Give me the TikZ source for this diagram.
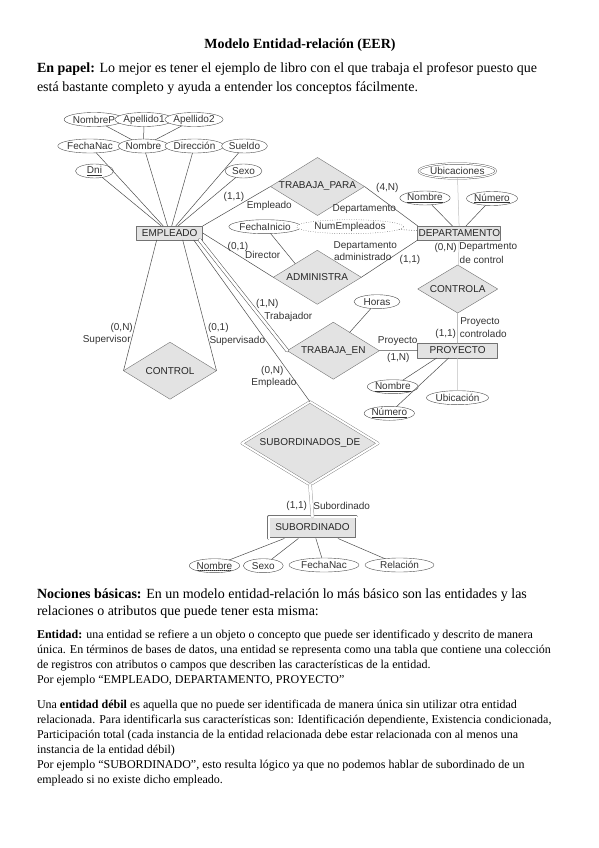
\documentclass[tikz,border=0pt]{standalone}
\usepackage{fontspec}
\setmainfont{Liberation Serif}
\setsansfont{Liberation Sans}
\usetikzlibrary{shapes.geometric}

\begin{document}
\begin{tikzpicture}
% Page traced in pixel units of the scanned sheet
\def\pxsz{1pt}
\providecommand{\erLineColor}{black!70}
\providecommand{\erFaintColor}{black!25}
\providecommand{\erFillColor}{black!11}
\providecommand{\erBorderColor}{black!55}
\providecommand{\erFont}{\sffamily\fontsize{10}{12}\selectfont}
\providecommand{\bigTxt}{\fontsize{14}{16}\selectfont}
\providecommand{\smallTxt}{\fontsize{12}{14}\selectfont}
\begin{scope}[x=\pxsz, y=-\pxsz, line cap=round, line join=round,
  every node/.style={inner sep=0pt, outer sep=0pt},
  attr/.style={ellipse, draw=\erLineColor, fill=white, minimum height=14pt, font=\erFont, text=black!80},
  entity/.style={rectangle, draw=\erBorderColor, fill=\erFillColor, line width=0.8pt, font=\erFont, text=black!85},
  rel/.style={diamond, aspect=1.6, draw=\erBorderColor, fill=\erFillColor, font=\erFont, text=black!85},
  role/.style={font=\erFont, text=black!80},
  link/.style={draw=\erLineColor, line width=0.5pt},
  faint/.style={draw=\erFaintColor, line width=0.5pt},
  total/.style={draw=\erLineColor, line width=0.5pt, double, double distance=2.6pt},
  txt/.style={anchor=mid west}]
  \useasboundingbox (0,0) rectangle (599,848);
  % Heading and first paragraph
  \node[font=\bigTxt\bfseries] (title) at (300,45) {Modelo Entidad-relación (EER)};
  \node[txt, font=\bigTxt] (p1) at (37,70) {\textbf{En papel:} Lo mejor es tener el ejemplo de libro con el que trabaja el profesor puesto que};
  \node[txt, font=\bigTxt] (p2) at (37,89) {está bastante completo y ayuda a entender los conceptos fácilmente.};
  % EMPLEADO and its attributes
  \node[entity, minimum width=66pt, minimum height=14pt] (empleado) at (169.7,233) {EMPLEADO};
  \node[attr, minimum width=47pt] (nombreP) at (94,119.5) {NombreP};
  \node[attr, minimum width=47pt] (apellido1) at (144,119.5) {Apellido1};
  \node[attr, minimum width=46pt] (apellido2) at (194,119.5) {Apellido2};
  \node[attr, minimum width=54pt] (fechaNac) at (90,146) {FechaNac};
  \node[attr, minimum width=47pt] (nombre) at (143.5,146) {Nombre};
  \node[attr, minimum width=46pt] (direccion) at (194.5,146) {Dirección};
  \node[attr, minimum width=46pt] (sueldo) at (244.5,146) {Sueldo};
  \node[attr, minimum width=38pt] (dni) at (94.5,171) {\underline{Dni}};
  \node[attr, minimum width=37pt] (sexo) at (243.5,171) {Sexo};
  \draw[link] (nombreP) -- (nombre);
  \draw[link] (apellido1) -- (nombre);
  \draw[link] (apellido2) -- (nombre);
  \draw[link] (dni) -- (empleado);
  \draw[link] (fechaNac) -- (empleado);
  \draw[link] (nombre) -- (empleado);
  \draw[link] (direccion) -- (empleado);
  \draw[link] (sueldo) -- (empleado);
  \draw[link] (sexo) -- (empleado);
  % DEPARTAMENTO and its attributes
  \node[entity, minimum width=83pt, minimum height=14pt] (departamento) at (459.3,233) {DEPARTAMENTO};
  \node[attr, minimum width=72pt, minimum height=15pt, double, double distance=1.2pt] (ubicaciones) at (457.3,171) {Ubicaciones};
  \node[attr, minimum width=49pt] (dNombre) at (425,198) {\underline{Nombre}};
  \node[attr, minimum width=51pt] (dNumero) at (492,198.5) {\underline{Número}};
  \draw[faint] (ubicaciones) -- (departamento);
  \draw[link] (dNombre) -- (departamento);
  \draw[link] (dNumero) -- (departamento);
  % TRABAJA_PARA
  \node[rel, minimum width=94pt, minimum height=58pt] (trabajaPara) at (317.5,186.5) {TRABAJA\_PARA};
  \draw[link] (empleado.north east) -- (trabajaPara.west);
  \draw[link] (trabajaPara.east) -- (departamento.north west);
  \node[role] (lTpE1) at (234,197.3) {(1,1)};
  \node[role] (lTpE2) at (269.3,206) {Empleado};
  \node[role] (lTpD1) at (387.3,188) {(4,N)};
  \node[role] (lTpD2) at (364.3,209) {Departamento};
  % ADMINISTRA
  \node[rel, minimum width=88pt, minimum height=54pt] (administra) at (317.3,277.3) {ADMINISTRA};
  \node[attr, minimum width=55pt] (fechaInicio) at (265,226.7) {FechaInicio};
  \node[attr, minimum width=107pt, dotted] (numEmpleados) at (350,226.7) {NumEmpleados};
  \draw[link] (empleado.east) -- (administra.west);
  \draw[link] (administra.east) -- (departamento.south west);
  \draw[link] (fechaInicio) -- (administra.north west);
  \draw[link, dotted] (numEmpleados) -- (departamento);
  \node[role] (lAdE1) at (238,246.7) {(0,1)};
  \node[role] (lAdE2) at (262.7,255) {Director};
  \node[role] (lAdD1) at (365.3,245.7) {Departamento};
  \node[role] (lAdD2) at (362.7,257.3) {administrado};
  \node[role] (lAdD3) at (410,260) {(1,1)};
  % CONTROLA and PROYECTO
  \node[rel, minimum width=80pt, minimum height=48pt] (controla) at (457.7,289) {CONTROLA};
  \node[entity, minimum width=80pt, minimum height=15pt] (proyecto) at (457.7,350.5) {PROYECTO};
  \node[attr, minimum width=51pt] (pNombre) at (392.8,386.7) {\underline{Nombre}};
  \node[attr, minimum width=50pt] (pNumero) at (389.3,413.3) {\underline{Número}};
  \node[attr, minimum width=62pt] (ubicacion) at (457.5,397.7) {Ubicación};
  \draw[faint] (departamento) -- (controla);
  \draw[faint] (controla) -- (proyecto);
  \draw[faint] (proyecto) -- (ubicacion);
  \draw[link] (pNombre) -- ([xshift=-21pt]proyecto.south);
  \draw[link] (pNumero) -- ([xshift=-9pt]proyecto.south);
  \node[role] (lCoD1) at (445.7,248) {(0,N)};
  \node[role] (lCoD2) at (488.3,247.3) {Departmento};
  \node[role] (lCoD3) at (481.7,260) {de control};
  \node[role] (lCoP1) at (480,321.7) {Proyecto};
  \node[role] (lCoP2) at (483.3,334) {controlado};
  \node[role] (lCoP3) at (445.7,334) {(1,1)};
  % TRABAJA_EN
  \node[rel, minimum width=92pt, minimum height=57pt] (trabajaEn) at (333.3,350.7) {TRABAJA\_EN};
  \node[attr, minimum width=46pt] (horas) at (377,301.7) {Horas};
  \draw[link] (horas) -- (trabajaEn);
  \draw[link] (trabajaEn.east) -- (proyecto.west);
  \draw[total] ([xshift=-3pt]empleado.south east) -- (trabajaEn.west);
  \node[role] (lTeE1) at (267.3,304) {(1,N)};
  \node[role] (lTeE2) at (288.3,317.3) {Trabajador};
  \node[role] (lTeP1) at (397.7,340.7) {Proyecto};
  \node[role] (lTeP2) at (398.3,358.3) {(1,N)};
  % CONTROL (recursive)
  \node[rel, minimum width=93pt, minimum height=57pt] (control) at (170,370.7) {CONTROL};
  \draw[link] ([xshift=-13pt]empleado.south) -- (control.west);
  \draw[link] ([xshift=13pt]empleado.south) -- (control.east);
  \node[role] (lCtS1) at (121.7,328.3) {(0,N)};
  \node[role] (lCtS2) at (106.7,340) {Supervisor};
  \node[role] (lCtV1) at (218.3,328.3) {(0,1)};
  \node[role] (lCtV2) at (237.3,340.7) {Supervisado};
  % SUBORDINADOS_DE and the weak entity
  \node[rel, minimum width=136pt, minimum height=83pt, double, double distance=2pt] (subordinadosDe) at (310,443.3) {SUBORDINADOS\_DE};
  \node[entity, minimum width=88pt, minimum height=22pt, double, double distance=2pt, line width=0.6pt] (subordinado) at (312.5,527.5) {SUBORDINADO};
  \draw[link] ([xshift=-9pt]empleado.south east) -- (subordinadosDe.north);
  \draw[total, draw=black!35] (subordinadosDe.south) -- (subordinado.north);
  \node[role] (lSdE1) at (272.3,370.7) {(0,N)};
  \node[role] (lSdE2) at (274,383.3) {Empleado};
  \node[role] (lSdS1) at (296.7,505.7) {(1,1)};
  \node[role] (lSdS2) at (341.7,505.7) {Subordinado};
  \node[attr, minimum width=46pt] (sNombre) at (214.5,565.7) {Nombre};
  \node[attr, minimum width=40pt] (sSexo) at (263.3,565.7) {Sexo};
  \node[attr, minimum width=70pt] (sFechaNac) at (324,565) {FechaNac};
  \node[attr, minimum width=69pt] (sRelacion) at (399.5,565) {Relación};
  % partial key: dashed underline
  \draw[draw=black!80, line width=0.4pt, dash pattern=on 1.2pt off 0.8pt] ([xshift=-17pt,yshift=-4.5pt]sNombre.center) -- ([xshift=17pt,yshift=-4.5pt]sNombre.center);
  \draw[link] (sNombre) -- (subordinado);
  \draw[link] (sSexo) -- (subordinado);
  \draw[link] (sFechaNac) -- (subordinado);
  \draw[link] (sRelacion) -- (subordinado);
  % Notes below the diagram
  \node[txt, font=\bigTxt] (n1) at (37,596) {\textbf{Nociones básicas:} En un modelo entidad-relación lo más básico son las entidades y las};
  \node[txt, font=\bigTxt] (n2) at (37,613) {relaciones o atributos que puede tener esta misma:};
  \node[txt, font=\smallTxt] (e1) at (37,636) {\textbf{Entidad:} una entidad se refiere a un objeto o concepto que puede ser identificado y descrito de manera};
  \node[txt, font=\smallTxt] (e2) at (37,651) {única. En términos de bases de datos, una entidad se representa como una tabla que contiene una colección};
  \node[txt, font=\smallTxt] (e3) at (37,666) {de registros con atributos o campos que describen las características de la entidad.};
  \node[txt, font=\smallTxt] (e4) at (37,681) {Por ejemplo “EMPLEADO, DEPARTAMENTO, PROYECTO”};
  \node[txt, font=\smallTxt] (d1) at (37,706) {Una \textbf{entidad débil} es aquella que no puede ser identificada de manera única sin utilizar otra entidad};
  \node[txt, font=\smallTxt] (d2) at (37,721) {relacionada. Para identificarla sus características son: Identificación dependiente, Existencia condicionada,};
  \node[txt, font=\smallTxt] (d3) at (37,736) {Participación total (cada instancia de la entidad relacionada debe estar relacionada con al menos una};
  \node[txt, font=\smallTxt] (d4) at (37,751) {instancia de la entidad débil)};
  \node[txt, font=\smallTxt] (d5) at (37,766) {Por ejemplo “SUBORDINADO”, esto resulta lógico ya que no podemos hablar de subordinado de un};
  \node[txt, font=\smallTxt] (d6) at (37,781) {empleado si no existe dicho empleado.};
\end{scope}
\end{tikzpicture}
\end{document}
